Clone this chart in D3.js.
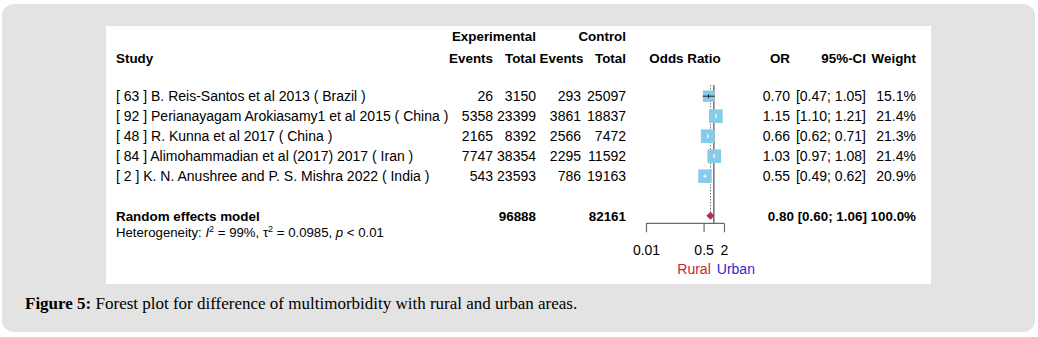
<!DOCTYPE html>
<html>
<head>
<meta charset="utf-8">
<script src="https://cdn.jsdelivr.net/npm/d3@7"></script>
<style>
  html, body { margin: 0; padding: 0; background: #ffffff; }
  svg { display: block; }
  text { font-family: "Liberation Sans", Arial, sans-serif; fill: #000; }
</style>
</head>
<body>
<svg id="chart" width="1038" height="337"></svg>
<script>
// Study-level data
const studies = [
  "[ 63 ] B. Reis-Santos et al 2013 ( Brazil )",
  "[ 92 ] Perianayagam Arokiasamy1 et al 2015 ( China )",
  "[ 48 ] R. Kunna et al 2017 ( China )",
  "[ 84 ] Alimohammadian et al (2017) 2017 ( Iran )",
  "[ 2 ] K. N. Anushree and P. S. Mishra 2022 ( India )"
];
const eventsExp = [26, 5358, 2165, 7747, 543];
const totalExp = [3150, 23399, 8392, 38354, 23593];
const eventsCtl = [293, 3861, 2566, 2295, 786];
const totalCtl = [25097, 18837, 7472, 11592, 19163];
const oddsRatio = [0.70, 1.15, 0.66, 1.03, 0.55];
const ciLower = [0.47, 1.10, 0.62, 0.97, 0.49];
const ciUpper = [1.05, 1.21, 0.71, 1.08, 0.62];
const weights = [15.1, 21.4, 21.3, 21.4, 20.9];

// Pooled estimate
const pooledTotals = [96888, 82161];
const pooledOR = [0.80, 0.60, 1.06];
const pooledWeight = 100.0;

const axisTicks = [0.01, 0.5, 2];

const fmt2 = d3.format(".2f");
const fmtW = d => d.toFixed(1) + "%";

const svg = d3.select("#chart");

// Page frame
svg.append("rect").attr("x", 2).attr("y", 4).attr("width", 1033).attr("height", 328)
  .attr("rx", 12).attr("fill", "#e3e3e3");
svg.append("rect").attr("x", 106).attr("y", 26).attr("width", 825).attr("height", 258)
  .attr("fill", "#ffffff");

const fs = 14;      // body text
const fsb = 13.4;   // bold header / summary text
const g = svg.append("g");

// Column anchors (right edges for numeric columns)
const col = { study: 116, evE: 493, totE: 536, evC: 581, totC: 626, or: 790, ci: 866, w: 916 };

// Header
const hdr1 = 41, hdr2 = 62.5;
g.append("text").attr("x", col.totE).attr("y", hdr1).attr("text-anchor", "end")
  .attr("font-weight", "bold").attr("font-size", fsb).text("Experimental");
g.append("text").attr("x", col.totC).attr("y", hdr1).attr("text-anchor", "end")
  .attr("font-weight", "bold").attr("font-size", fsb).text("Control");
[["Study", col.study, "start"], ["Events", col.evE, "end"], ["Total", col.totE, "end"],
 ["Events", col.evC + 2.5, "end"], ["Total", col.totC, "end"], ["OR", col.or, "end"],
 ["95%-CI", col.ci, "end"], ["Weight", col.w, "end"]].forEach(([t, x, a]) => {
  g.append("text").attr("x", x).attr("y", hdr2).attr("text-anchor", a)
    .attr("font-weight", "bold").attr("font-size", fsb).text(t);
});

// Forest scale
const x = d3.scaleLog().domain([0.01, 2]).range([646, 724]);
g.append("text").attr("x", (x.range()[0] + x.range()[1]) / 2).attr("y", hdr2)
  .attr("text-anchor", "middle").attr("font-weight", "bold").attr("font-size", fsb).text("Odds Ratio");

// Row positions (text baselines)
const rowBase = d3.scaleLinear().domain([0, 4]).range([101, 181]);
const midOffset = 4.8;
const pooledBase = 220.5;
const plotTop = 85, axisY = 223.3;

// Reference line at no effect and dotted line at pooled estimate
g.append("line").attr("x1", x(1)).attr("x2", x(1)).attr("y1", plotTop).attr("y2", axisY)
  .attr("stroke", "#7a7a7a").attr("stroke-width", 1.6);
g.append("line").attr("x1", x(pooledOR[0])).attr("x2", x(pooledOR[0]))
  .attr("y1", plotTop).attr("y2", pooledBase - midOffset)
  .attr("stroke", "#555").attr("stroke-width", 0.8).attr("stroke-dasharray", "1.5,1.5");

// Study rows
studies.forEach((s, i) => {
  const yb = rowBase(i);
  const yc = yb - midOffset;
  g.append("text").attr("x", col.study).attr("y", yb).attr("font-size", fs).text(s);
  [[eventsExp[i], col.evE], [totalExp[i], col.totE], [eventsCtl[i], col.evC], [totalCtl[i], col.totC]]
    .forEach(([v, cx]) => g.append("text").attr("x", cx).attr("y", yb).attr("text-anchor", "end")
      .attr("font-size", fs).text(v));
  g.append("text").attr("x", col.or).attr("y", yb).attr("text-anchor", "end").attr("font-size", fs)
    .text(fmt2(oddsRatio[i]));
  g.append("text").attr("x", col.ci).attr("y", yb).attr("text-anchor", "end").attr("font-size", fs)
    .text("[" + fmt2(ciLower[i]) + "; " + fmt2(ciUpper[i]) + "]");
  g.append("text").attr("x", col.w).attr("y", yb).attr("text-anchor", "end").attr("font-size", fs)
    .text(fmtW(weights[i]));

  // Square: area proportional to weight
  const side = 2.95 * Math.sqrt(weights[i]);
  const cx = x(oddsRatio[i]);
  g.append("rect").attr("x", cx - side / 2).attr("y", yc - side / 2)
    .attr("width", side).attr("height", side).attr("fill", "#86cbe9");
  const inside = x(ciLower[i]) >= cx - side / 2 && x(ciUpper[i]) <= cx + side / 2;
  const ciCol = inside ? "#ffffff" : "#222";
  g.append("line").attr("x1", x(ciLower[i])).attr("x2", x(ciUpper[i])).attr("y1", yc).attr("y2", yc)
    .attr("stroke", ciCol).attr("stroke-width", 1);
  g.append("line").attr("x1", cx).attr("x2", cx).attr("y1", yc - 2).attr("y2", yc + 2)
    .attr("stroke", ciCol).attr("stroke-width", 1);
});

// Pooled row
g.append("text").attr("x", col.study).attr("y", pooledBase).attr("font-weight", "bold")
  .attr("font-size", fsb).text("Random effects model");
g.append("text").attr("x", col.totE).attr("y", pooledBase).attr("text-anchor", "end")
  .attr("font-weight", "bold").attr("font-size", fsb).text(pooledTotals[0]);
g.append("text").attr("x", col.totC).attr("y", pooledBase).attr("text-anchor", "end")
  .attr("font-weight", "bold").attr("font-size", fsb).text(pooledTotals[1]);
g.append("text").attr("x", col.w).attr("y", pooledBase).attr("text-anchor", "end")
  .attr("font-weight", "bold").attr("font-size", fsb)
  .text(fmt2(pooledOR[0]) + " [" + fmt2(pooledOR[1]) + "; " + fmt2(pooledOR[2]) + "] " + fmtW(pooledWeight));

const pc = pooledBase - midOffset;
g.append("path")
  .attr("d", `M${x(pooledOR[1])},${pc} L${x(pooledOR[0])},${pc - 4} L${x(pooledOR[2])},${pc} L${x(pooledOR[0])},${pc + 4} Z`)
  .attr("fill", "#b03060");

// Heterogeneity line
const het = g.append("text").attr("x", col.study).attr("y", 236.5).attr("font-size", 13.2);
het.append("tspan").text("Heterogeneity: ");
het.append("tspan").attr("font-style", "italic").text("I");
het.append("tspan").attr("font-size", 9).attr("dy", -5).text("2");
het.append("tspan").attr("dy", 5).text(" = 99%, \u03c4");
het.append("tspan").attr("font-size", 9).attr("dy", -5).text("2");
het.append("tspan").attr("dy", 5).text(" = 0.0985, ");
het.append("tspan").attr("font-style", "italic").text("p");
het.append("tspan").text(" < 0.01");

// Axis
const axis = d3.axisBottom(x).tickValues(axisTicks).tickSize(9).tickSizeOuter(0)
  .tickFormat(d => String(d));
const ax = g.append("g").attr("transform", `translate(0,${axisY})`).call(axis);
ax.select(".domain").attr("stroke", "#6a6a6a").attr("stroke-width", 1.2)
  .attr("d", `M${x.range()[0]},0H${x.range()[1]}`);
ax.selectAll(".tick line").attr("stroke", "#6a6a6a").attr("stroke-width", 1.2);
ax.selectAll(".tick text").attr("font-size", fs).attr("font-family", "Liberation Sans, Arial, sans-serif")
  .attr("fill", "#000").attr("dy", null).attr("y", 31.5);

// Direction labels
g.append("text").attr("x", x(1) - 3).attr("y", 274).attr("text-anchor", "end")
  .attr("font-size", fs).style("fill", "#cc2233").text("Rural");
g.append("text").attr("x", x(1) + 3).attr("y", 274).attr("text-anchor", "start")
  .attr("font-size", fs).style("fill", "#2a2ad0").text("Urban");

// Caption
const cap = svg.append("text").attr("x", 25).attr("y", 309).attr("font-size", 17)
  .style("font-family", "'Liberation Serif', 'DejaVu Serif', serif");
cap.append("tspan").attr("font-weight", "bold").text("Figure 5:");
cap.append("tspan").text(" Forest plot for difference of multimorbidity with rural and urban areas.");
</script>
</body>
</html>
